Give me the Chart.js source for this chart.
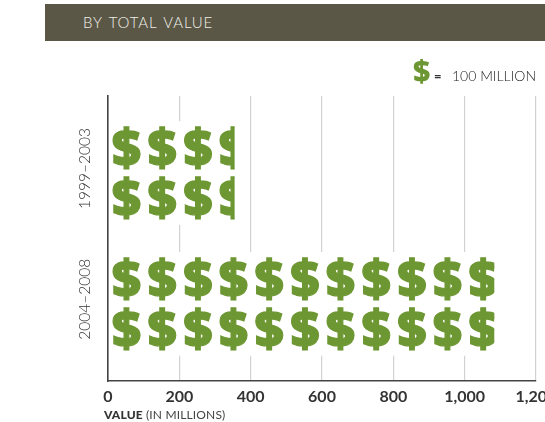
<!DOCTYPE html>
<html><head><meta charset="utf-8">
<style>
html,body{margin:0;padding:0;background:#fff;overflow:hidden;width:545px;height:422px;font-family:Lato,sans-serif}
#wrap{position:relative;width:545px;height:422px;overflow:hidden}
canvas{position:absolute;left:0;top:0}
.t{position:absolute;white-space:nowrap}
#band{position:absolute;left:45px;top:4px;width:500px;height:37px;background:#5a5746}
#head{left:83px;top:13px;font-size:15px;font-weight:300;line-height:18px;color:#f0efe9;word-spacing:2px;letter-spacing:.85px}
#ls{left:413px;top:54px;font:900 30px/34px "Noto Sans",sans-serif;color:#6d9732}
#le{left:434px;top:69px;font-weight:900;font-size:13px;line-height:15px;color:#333}
#lt{left:452px;top:68px;font-size:14px;font-weight:300;line-height:16px;color:#222}
#xt{left:104px;top:408px;font-size:12px;line-height:14px;color:#444;letter-spacing:.15px}
#xt b{font-weight:900;color:#333}
</style></head><body>
<div id="wrap">
<canvas id="c" width="600" height="422"></canvas>
<div id="band"></div>
<div class="t" id="head">BY TOTAL VALUE</div>
<div class="t" id="ls">$</div><div class="t" id="le">=</div><div class="t" id="lt">100 MILLION</div>
<div class="t" id="xt"><b>VALUE</b> (IN MILLIONS)</div>
</div>
<script src="https://cdn.jsdelivr.net/npm/chart.js@4"></script>
<script>
const categories = ['1999–2003', '2004–2008'];
const values = [355, 1083];
const xTicks = [0, 200, 400, 600, 800, 1000, 1200];
const unitValue = 100;
const symbol = '$';
const symbolColor = '#6d9732';

const pictogram = {
  id: 'pictogram',
  afterDatasetsDraw(chart) {
    const x = chart.scales.x, ctx = chart.ctx;
    chart.getDatasetMeta(0).data.forEach((bar, i) => {
      ctx.save();
      ctx.beginPath();
      ctx.rect(x.getPixelForValue(0), bar.y - 60, x.getPixelForValue(values[i]) - x.getPixelForValue(0), 120);
      ctx.clip();
      ctx.fillStyle = symbolColor;
      ctx.strokeStyle = symbolColor;
      ctx.lineWidth = 1.2;
      ctx.font = '900 51px "Noto Sans", sans-serif';
      ctx.textAlign = 'center';
      ctx.textBaseline = 'alphabetic';
      const n = Math.ceil(values[i] / unitValue);
      for (let k = 0; k < n; k++) {
        const px = x.getPixelForValue((k + 0.52) * unitValue);
        [-25, 25].forEach(off => {
          ctx.fillText(symbol, px, bar.y + off + 18);
          ctx.strokeText(symbol, px, bar.y + off + 18);
        });
      }
      ctx.restore();
    });
  }
};

new Chart(document.getElementById('c'), {
  type: 'bar',
  plugins: [pictogram],
  data: {
    labels: [0, 1],
    datasets: [{
      data: values.map((v, i) => ({ x: v, y: i })),
      backgroundColor: '#ffffff',
      borderWidth: 0,
      barThickness: 103
    }]
  },
  options: {
    indexAxis: 'y',
    responsive: false,
    animation: false,
    layout: { padding: { top: 96, right: 64, bottom: 0, left: 0 } },
    plugins: { legend: { display: false }, tooltip: { enabled: false } },
    scales: {
      x: {
        type: 'linear', min: 0, max: 1200, position: 'bottom',
        afterBuildTicks: s => { s.ticks = xTicks.map(v => ({ value: v })); },
        afterFit: s => { s.paddingLeft = 0; s.paddingRight = 0; s.height = 41; },
        grid: { color: '#d2d2d2', lineWidth: 1.2, drawTicks: false },
        border: { color: '#444', width: 1.6, z: 1 },
        ticks: {
          autoSkip: false, maxRotation: 0, padding: 6,
          color: '#333', font: { family: 'Lato', size: 16, weight: 700 },
          callback: v => v.toLocaleString('en-US')
        }
      },
      y: {
        type: 'linear', min: -0.59, max: 1.59, reverse: true, position: 'left', offset: false,
        afterBuildTicks: s => { s.ticks = categories.map((c, i) => ({ value: i - 0.035 })); },
        afterFit: s => { s.width = 108; s.paddingTop = 0; s.paddingBottom = 0; },
        grid: { display: false, drawTicks: false, offset: false },
        border: { color: '#444', width: 1.6, z: 1 },
        ticks: {
          autoSkip: false, minRotation: 90, maxRotation: 90, padding: -17, crossAlign: 'center',
          color: '#333', font: { family: 'Lato', size: 15.5, weight: 300 },
          callback: (v, i) => categories[i]
        }
      }
    }
  }
});
</script>
</body></html>
